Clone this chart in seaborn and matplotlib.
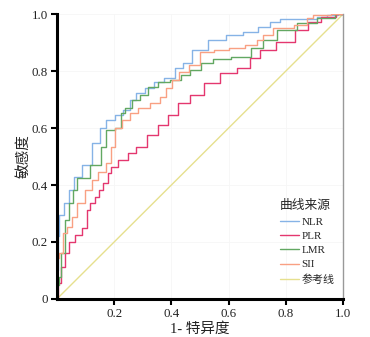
import numpy as np
import matplotlib
matplotlib.use('Agg')
import matplotlib.pyplot as plt
import pandas as pd
import seaborn as sns

# ROC knots (1-specificity, sensitivity)
nlr_fpr = [0, 0.003, 0.007, 0.010, 0.014, 0.035, 0.052, 0.070, 0.108, 0.140, 0.160, 0.185, 0.220, 0.245,
           0.266, 0.290, 0.325, 0.350, 0.395, 0.430, 0.448, 0.493, 0.563, 0.622, 0.682, 0.727, 0.762,
           0.797, 0.892, 0.927, 0.962, 1.0]
nlr_tpr = [0, 0.100, 0.220, 0.295, 0.295, 0.337, 0.382, 0.428, 0.470, 0.547, 0.600, 0.628, 0.646, 0.663,
           0.698, 0.723, 0.740, 0.761, 0.775, 0.810, 0.828, 0.874, 0.909, 0.926, 0.937, 0.954, 0.972,
           0.982, 0.982, 0.989, 0.996, 1.0]

plr_fpr = [0, 0.007, 0.021, 0.035, 0.052, 0.073, 0.105, 0.108, 0.126, 0.143, 0.150, 0.175, 0.185, 0.196,
           0.230, 0.266, 0.290, 0.336, 0.370, 0.406, 0.437, 0.490, 0.535, 0.605, 0.657, 0.692, 0.727,
           0.804, 0.860, 0.895, 0.948, 1.0]
plr_tpr = [0, 0.056, 0.112, 0.161, 0.200, 0.225, 0.249, 0.312, 0.337, 0.358, 0.382, 0.407, 0.442, 0.463,
           0.488, 0.512, 0.533, 0.575, 0.610, 0.646, 0.688, 0.716, 0.758, 0.793, 0.811, 0.846, 0.874,
           0.902, 0.944, 0.972, 0.989, 1.0]

lmr_fpr = [0, 0.003, 0.010, 0.021, 0.035, 0.052, 0.063, 0.080, 0.150, 0.160, 0.185, 0.220, 0.230, 0.245,
           0.280, 0.300, 0.336, 0.370, 0.420, 0.448, 0.483, 0.524, 0.570, 0.650, 0.710, 0.734, 0.804,
           0.874, 0.944, 1.0]
lmr_tpr = [0, 0.050, 0.077, 0.161, 0.277, 0.337, 0.382, 0.425, 0.470, 0.533, 0.593, 0.600, 0.653, 0.670,
           0.698, 0.716, 0.744, 0.761, 0.768, 0.786, 0.804, 0.828, 0.842, 0.849, 0.880, 0.909, 0.944,
           0.968, 0.986, 1.0]

sii_fpr = [0, 0, 0.017, 0.028, 0.045, 0.063, 0.080, 0.115, 0.133, 0.157, 0.185, 0.196, 0.210, 0.245,
           0.266, 0.300, 0.350, 0.370, 0.395, 0.406, 0.448, 0.472, 0.528, 0.570, 0.633, 0.682, 0.717,
           0.727, 0.787, 0.867, 0.878, 0.913, 1.0]
sii_tpr = [0, 0.144, 0.161, 0.232, 0.253, 0.288, 0.337, 0.382, 0.418, 0.446, 0.477, 0.533, 0.600, 0.628,
           0.653, 0.670, 0.688, 0.709, 0.740, 0.768, 0.796, 0.821, 0.867, 0.874, 0.881, 0.891, 0.909,
           0.926, 0.951, 0.961, 0.986, 0.996, 1.0]

ref_x = [0, 1]
ref_y = [0, 1]

names = ['NLR', 'PLR', 'LMR', 'SII', '参考线']
colors = ['#86b3e6', '#e4376f', '#62a862', '#f9a083', '#e6e08e']

frames = []
for n, fx, ty in zip(names, [nlr_fpr, plr_fpr, lmr_fpr, sii_fpr, ref_x],
                     [nlr_tpr, plr_tpr, lmr_tpr, sii_tpr, ref_y]):
    frames.append(pd.DataFrame({'fpr': fx, 'tpr': ty, 'curve': n}))
df = pd.concat(frames, ignore_index=True)

sns.set_style('white')
plt.rcParams['font.family'] = ['Liberation Serif', 'Noto Sans CJK SC', 'DejaVu Sans']

fig = plt.figure(figsize=(3.7, 3.37), dpi=100)
ax = fig.add_axes([0.154, 0.113, 0.773, 0.845])

pal = dict(zip(names, colors))
roc = df[df['curve'] != '参考线']
sns.lineplot(data=df[df['curve'] == '参考线'], x='fpr', y='tpr', color=pal['参考线'], estimator=None,
             sort=False, linewidth=1.0, ax=ax)
sns.lineplot(data=roc, x='fpr', y='tpr', hue='curve', palette=pal, estimator=None, sort=False,
             drawstyle='steps-mid', linewidth=1.0, ax=ax, hue_order=names[:4])

ax.set_xlim(0, 1)
ax.set_ylim(0, 1)
ax.set_xticks([0.2, 0.4, 0.6, 0.8, 1.0])
ax.set_xticklabels(['0.2', '0.4', '0.6', '0.8', '1.0'])
ax.set_yticks([0, 0.2, 0.4, 0.6, 0.8, 1.0])
ax.set_yticklabels(['0', '0.2', '0.4', '0.6', '0.8', '1.0'])
ax.tick_params(direction='out', length=4, width=1.5, colors='black', labelsize=9.3,
               labelcolor='#222222', bottom=True, left=True, pad=2.5)
for s in ['left', 'bottom']:
    ax.spines[s].set_linewidth(2.2)
    ax.spines[s].set_color('black')
ax.spines['top'].set_visible(False)
ax.spines['right'].set_color('#999999')
ax.spines['right'].set_linewidth(1)
ax.grid(True, color='#f6f6f6', linewidth=0.6)

ax.set_xlabel('1- 特异度', fontsize=10.5, color='#222222', labelpad=1.5)
ax.set_ylabel('敏感度', fontsize=10.5, color='#222222', labelpad=0.5)

h, l = ax.get_legend_handles_labels()
ref_handle = plt.Line2D([], [], color=pal['参考线'], linewidth=1.0)
h = h[:4] + [ref_handle]
l = names
leg = ax.legend(h, l, title='曲线来源', loc='lower right', bbox_to_anchor=(0.985, 0.035), frameon=False,
                fontsize=7.9, title_fontsize=9.2, handlelength=1.75, labelspacing=0.42,
                handletextpad=0.2, borderaxespad=0)
leg._legend_box.align = 'left'

fig.savefig('out.png', dpi=100)
